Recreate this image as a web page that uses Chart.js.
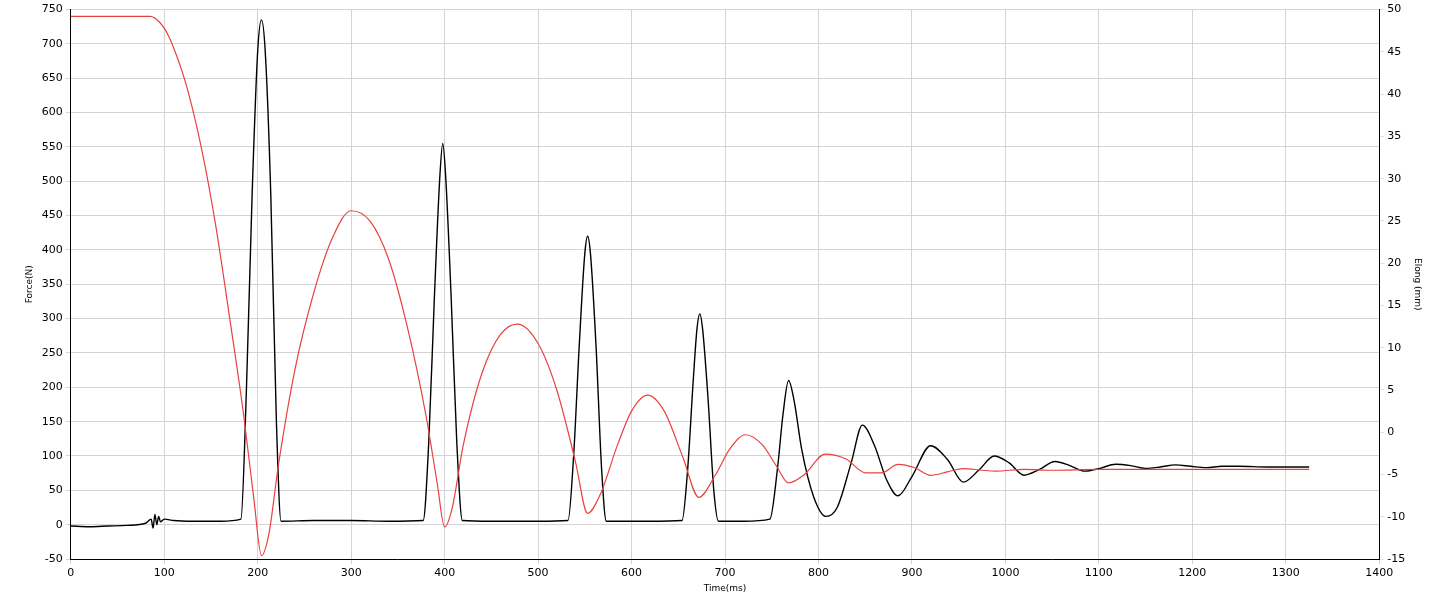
<!DOCTYPE html>
<html>
<head>
<meta charset="utf-8">
<script src="https://cdn.jsdelivr.net/npm/chart.js@4/dist/chart.umd.min.js"></script>
<style>
  html, body { margin: 0; padding: 0; background: #fff; }
  #wrap { width: 1445px; height: 608px; }
</style>
</head>
<body>
<div id="wrap"><canvas id="grafico"></canvas></div>
<script>
// Fuerza (N), curva negra, eje izquierdo
const fuerzaT = [0, 20, 40, 60, 80, 86, 88, 90, 92, 94, 96, 100, 110, 130, 160, 182, 188, 194, 200, 204, 208, 214, 220, 225,
  260, 300, 340, 377, 383, 389, 395, 398, 401, 407, 413, 419, 450, 500, 532, 538, 544, 550, 553, 556, 562, 568, 573,
  620, 654, 660, 666, 670, 673, 676, 682, 688, 693, 720, 748, 756, 762, 768, 774, 782, 795, 808, 820, 835, 847, 860,
  873, 885, 900, 920, 938, 955, 972, 988, 1004, 1020, 1036, 1053, 1069, 1085, 1101, 1118, 1134, 1150, 1166, 1182,
  1198, 1215, 1232, 1250, 1280, 1325];
const fuerzaN = [-2, -3, -2, -1, 2, 8, -5, 15, 0, 12, 4, 8, 6, 5, 5, 8, 200, 480, 690, 735, 690, 480, 150, 5,
  6, 6, 5, 6, 120, 330, 510, 555, 510, 330, 120, 6, 5, 5, 6, 100, 260, 395, 420, 395, 260, 80, 5,
  5, 6, 80, 210, 285, 307, 285, 180, 50, 5, 5, 8, 80, 160, 210, 180, 110, 40, 12, 25, 90, 145, 115,
  65, 42, 70, 115, 95, 62, 80, 100, 90, 72, 80, 92, 86, 78, 82, 88, 86, 82, 84, 87,
  85, 83, 85, 85, 84, 84];

// Elongación (mm), curva roja, eje derecho
const elongT = [0, 40, 85, 95, 105, 115, 125, 140, 155, 170, 185, 196, 204, 212, 222, 240, 260, 280, 300, 320, 340,
  360, 380, 392, 400, 408, 420, 440, 460, 478, 500, 520, 540, 553, 566, 585, 600, 617, 635, 655, 672, 690, 705, 722,
  740, 755, 768, 785, 807, 830, 850, 868, 885, 903, 920, 938, 955, 975, 990, 1020, 1050, 1100, 1200, 1325];
const elongMm = [49.2, 49.2, 49.2, 48.5, 46.8, 44, 40.5, 33.5, 24.5, 13.5, 2, -8, -14.6, -12, -4, 7.5, 16.5, 23, 26.2, 25, 20.5,
  12.5, 2, -6, -11.2, -9, -1.5, 7, 11.6, 12.8, 10.5, 5, -3.5, -9.6, -7.5, -1.5, 2.5, 4.4, 2.5, -3, -7.7, -5, -2, -0.3,
  -1.5, -4, -6, -5, -2.6, -3.2, -4.8, -4.8, -3.8, -4.2, -5.1, -4.7, -4.3, -4.5, -4.6, -4.4, -4.5, -4.4, -4.4, -4.4];

const ticksX = [0, 100, 200, 300, 400, 500, 600, 700, 800, 900, 1000, 1100, 1200, 1300, 1400];

const fuente = { family: "'DejaVu Sans', sans-serif", size: 11 };
const simple = v => String(v);

new Chart(document.getElementById('grafico').getContext('2d'), {
  type: 'line',
  data: {
    datasets: [
      {
        label: 'Elong',
        data: elongT.map((t, i) => ({ x: t, y: elongMm[i] })),
        borderColor: '#e8423f',
        borderWidth: 1.2,
        pointRadius: 0,
        cubicInterpolationMode: 'monotone',
        yAxisID: 'y2'
      },
      {
        label: 'Force',
        data: fuerzaT.map((t, i) => ({ x: t, y: fuerzaN[i] })),
        borderColor: '#000000',
        borderWidth: 1.4,
        pointRadius: 0,
        cubicInterpolationMode: 'monotone',
        yAxisID: 'y'
      }
    ]
  },
  options: {
    responsive: true,
    maintainAspectRatio: false,
    animation: false,
    layout: { padding: { left: 20, right: 18, top: 8, bottom: 14 } },
    plugins: { legend: { display: false }, tooltip: { enabled: false } },
    scales: {
      x: {
        type: 'linear', min: 0, max: 1400,
        afterBuildTicks: ax => { ax.ticks = ticksX.map(v => ({ value: v })); },
        ticks: { font: fuente, color: '#000', maxRotation: 0, callback: simple },
        grid: { color: '#d4d4d4', tickLength: 5 },
        border: { color: '#000' },
        title: { display: true, text: 'Time(ms)', font: { family: fuente.family, size: 9 }, color: '#000', padding: 0 }
      },
      y: {
        position: 'left', min: -50, max: 750,
        ticks: { stepSize: 50, font: fuente, color: '#000', callback: simple },
        grid: { color: '#d4d4d4', tickLength: 5 },
        border: { color: '#000' },
        title: { display: true, text: 'Force(N)', font: { family: fuente.family, size: 9 }, color: '#000' }
      },
      y2: {
        position: 'right', min: -15, max: 50,
        ticks: { stepSize: 5, font: fuente, color: '#000', callback: simple },
        grid: { drawOnChartArea: false, tickLength: 5 },
        border: { color: '#000' },
        title: { display: true, text: 'Elong (mm)', font: { family: fuente.family, size: 9 }, color: '#000' }
      }
    }
  }
});
</script>
</body>
</html>
